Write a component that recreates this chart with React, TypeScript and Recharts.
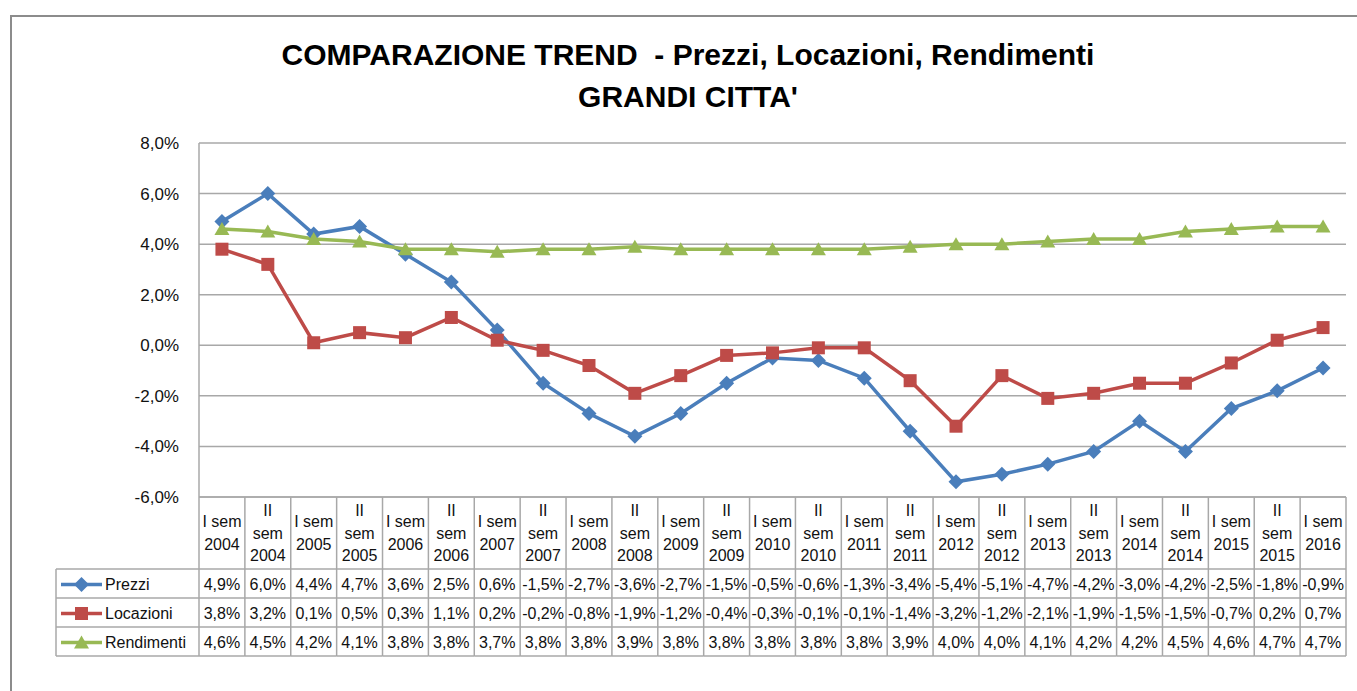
import React from 'react';
import {ComposedChart, Line, XAxis, YAxis, CartesianGrid} from 'recharts';

const categories = [
    'I sem 2004', 'II sem 2004', 'I sem 2005', 'II sem 2005', 'I sem 2006', 'II sem 2006',
    'I sem 2007', 'II sem 2007', 'I sem 2008', 'II sem 2008', 'I sem 2009', 'II sem 2009',
    'I sem 2010', 'II sem 2010', 'I sem 2011', 'II sem 2011', 'I sem 2012', 'II sem 2012',
    'I sem 2013', 'II sem 2013', 'I sem 2014', 'II sem 2014', 'I sem 2015', 'II sem 2015',
    'I sem 2016',
];
const prezzi = [4.9, 6.0, 4.4, 4.7, 3.6, 2.5, 0.6, -1.5, -2.7, -3.6, -2.7, -1.5, -0.5, -0.6, -1.3, -3.4, -5.4, -5.1, -4.7, -4.2, -3.0, -4.2, -2.5, -1.8, -0.9];
const locazioni = [3.8, 3.2, 0.1, 0.5, 0.3, 1.1, 0.2, -0.2, -0.8, -1.9, -1.2, -0.4, -0.3, -0.1, -0.1, -1.4, -3.2, -1.2, -2.1, -1.9, -1.5, -1.5, -0.7, 0.2, 0.7];
const rendimenti = [4.6, 4.5, 4.2, 4.1, 3.8, 3.8, 3.7, 3.8, 3.8, 3.9, 3.8, 3.8, 3.8, 3.8, 3.8, 3.9, 4.0, 4.0, 4.1, 4.2, 4.2, 4.5, 4.6, 4.7, 4.7];
const yTicks = [-6, -4, -2, 0, 2, 4, 6, 8];

const series = [
    {key: 'prezzi', name: 'Prezzi', color: '#4A7EBB', values: prezzi, shape: 'diamond'},
    {key: 'locazioni', name: 'Locazioni', color: '#BE4B48', values: locazioni, shape: 'square'},
    {key: 'rendimenti', name: 'Rendimenti', color: '#98B954', values: rendimenti, shape: 'triangle'},
];

const data = categories.map((cat, i) => ({cat, prezzi: prezzi[i], locazioni: locazioni[i], rendimenti: rendimenti[i]}));

const FONT = '"Liberation Sans", Arial, sans-serif';
const W = 1357;
const H = 691;
const Y_W = 199;
const RIGHT = 11;
const TOP = 143;
const AXIS_H = 194;
const COL_W = (W - Y_W - RIGHT) / categories.length;
const HEAD_H = 72;
const ROW_H = 29;
const LEGEND_W = 143;
const GRID = '#a8a8a8';
const TEXT = '#111';

const pct = (v: number) => `${v.toFixed(1).replace('.', ',')}%`;

const wrap = (c: string) => {
    const year = c.slice(-4);
    return c.startsWith('II') ? ['II', 'sem', year] : ['I sem', year];
};

function Marker({shape, cx, cy, color}: {shape: string, cx: number, cy: number, color: string}) {
    if (shape === 'diamond') {
        const r = 7.5;
        return <path d={`M${cx},${cy - r}L${cx + r},${cy}L${cx},${cy + r}L${cx - r},${cy}Z`} fill={color}/>;
    }
    if (shape === 'square') {
        const r = 6.5;
        return <rect x={cx - r} y={cy - r} width={r * 2} height={r * 2} fill={color}/>;
    }
    return <path d={`M${cx},${cy - 7}L${cx + 7.5},${cy + 6}L${cx - 7.5},${cy + 6}Z`} fill={color}/>;
}

function TableTick(props: any) {
    const {x, y, index} = props;
    const h = COL_W / 2;
    const lines = wrap(categories[index]);
    const lh = 22.5;
    const startY = y + HEAD_H / 2 - (lines.length - 1) * lh / 2;
    const tableH = HEAD_H + ROW_H * series.length;
    const rowLines = [0, 1, 2, 3].map(r => y + HEAD_H + ROW_H * r);
    return (
        <g fontFamily={FONT}>
            {lines.map((l, i) => (
                <text key={i} x={x} y={startY + i * lh} textAnchor="middle" dominantBaseline="central" fontSize={16} fill={TEXT}>{l}</text>
            ))}
            {series.map((s, r) => (
                <text key={s.key} x={x} y={y + HEAD_H + ROW_H * r + ROW_H / 2 + 1} textAnchor="middle" dominantBaseline="central" fontSize={16} fill={TEXT}>
                    {pct(s.values[index])}
                </text>
            ))}
            <line x1={x + h} x2={x + h} y1={y} y2={y + tableH} stroke={GRID} strokeWidth={1.5}/>
            {index === 0 && <line x1={x - h} x2={x - h} y1={y} y2={y + tableH} stroke={GRID} strokeWidth={1.5}/>}
            {rowLines.map((ly, i) => (
                <line key={i} x1={index === 0 ? x - h - LEGEND_W : x - h} x2={x + h} y1={ly} y2={ly} stroke={GRID} strokeWidth={1.5}/>
            ))}
            {index === 0 && (
                <g>
                    <line x1={x - h - LEGEND_W} x2={x - h - LEGEND_W} y1={rowLines[0]} y2={rowLines[3]} stroke={GRID} strokeWidth={1.5}/>
                    {series.map((s, r) => {
                        const cy = y + HEAD_H + ROW_H * r + ROW_H / 2 + 1;
                        const lx = x - h - LEGEND_W + 5;
                        return (
                            <g key={s.key}>
                                <line x1={lx} x2={lx + 41} y1={cy} y2={cy} stroke={s.color} strokeWidth={3.5}/>
                                <Marker shape={s.shape} cx={lx + 20.5} cy={cy} color={s.color}/>
                                <text x={lx + 44} y={cy} dominantBaseline="central" fontSize={16} fill={TEXT}>{s.name}</text>
                            </g>
                        );
                    })}
                </g>
            )}
        </g>
    );
}

export default function App(): React.ReactElement {
    return (
        <div style={{position: 'absolute', left: 0, top: 0, width: W, height: H, background: '#fff', overflow: 'hidden', fontFamily: FONT}}>
            <div style={{position: 'absolute', left: 10, top: 15, width: 1400, height: 720, border: '2px solid #8c8c8c', boxSizing: 'border-box'}}/>
            <div style={{position: 'absolute', left: 188, top: 34, width: 1000, textAlign: 'center', fontWeight: 'bold', fontSize: 30, lineHeight: '42px', color: '#000', whiteSpace: 'pre'}}>
                {'COMPARAZIONE TREND  - Prezzi, Locazioni, Rendimenti\nGRANDI CITTA\''}
            </div>
            <div style={{position: 'absolute', left: 0, top: 0}}>
                <ComposedChart width={W} height={H} data={data} margin={{top: TOP, right: RIGHT, bottom: 0, left: 0}}>
                    <CartesianGrid vertical={false} stroke={GRID} strokeWidth={1.5}/>
                    <XAxis
                        dataKey="cat"
                        height={AXIS_H}
                        interval={0}
                        padding={{left: COL_W / 2, right: COL_W / 2}}
                        tickLine={false}
                        tickSize={0}
                        tickMargin={0}
                        axisLine={{stroke: GRID, strokeWidth: 1.5}}
                        tick={<TableTick/>}
                    />
                    <YAxis
                        width={Y_W}
                        domain={[-6, 8]}
                        ticks={yTicks}
                        interval={0}
                        tickLine={false}
                        tickMargin={14}
                        tickFormatter={pct}
                        axisLine={{stroke: GRID, strokeWidth: 1.5}}
                        tick={{fontSize: 17, fill: TEXT, fontFamily: FONT}}
                    />
                    {series.map(s => (
                        <Line
                            key={s.key}
                            type="linear"
                            dataKey={s.key}
                            name={s.name}
                            stroke={s.color}
                            strokeWidth={3.5}
                            isAnimationActive={false}
                            dot={(p: any) => <Marker key={p.index} shape={s.shape} cx={p.cx} cy={p.cy} color={s.color}/>}
                            activeDot={false}
                        />
                    ))}
                </ComposedChart>
            </div>
        </div>
    );
}
